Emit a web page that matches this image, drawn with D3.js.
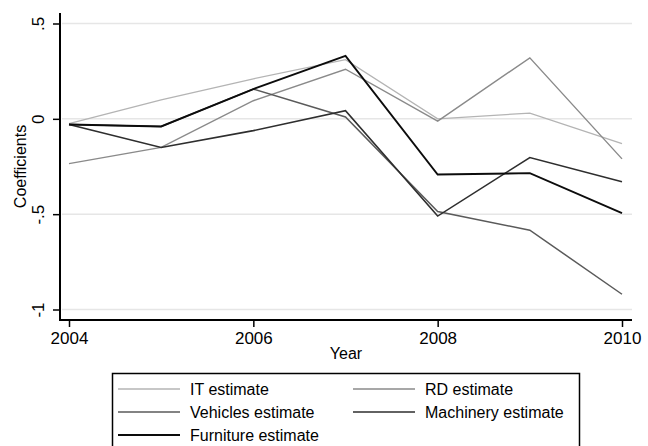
<!DOCTYPE html>
<html>
<head>
<meta charset="utf-8">
<script src="https://cdn.jsdelivr.net/npm/d3@7"></script>
<style>
  body { margin: 0; background: #fff; }
  text { font-family: "Liberation Sans", Arial, sans-serif; fill: #000; }
</style>
</head>
<body>
<div id="wrapper"></div>
<script>
// data
const years = [2004, 2005, 2006, 2007, 2008, 2009, 2010]
const itEstimate = [-0.025, 0.10, 0.21, 0.31, 0.0, 0.03, -0.13]
const rdEstimate = [-0.235, -0.15, 0.095, 0.26, -0.012, 0.32, -0.21]
const vehiclesEstimate = [-0.03, -0.04, 0.156, 0.01, -0.486, -0.584, -0.92]
const machineryEstimate = [-0.03, -0.15, -0.062, 0.043, -0.51, -0.203, -0.33]
const furnitureEstimate = [-0.03, -0.04, 0.156, 0.33, -0.292, -0.285, -0.495]
const yTicks = [-1, -0.5, 0, 0.5]
const yTickLabels = ["-1", "-.5", "0", ".5"]
const xTicks = [2004, 2006, 2008, 2010]

const series = [
  { name: "IT estimate", values: itEstimate, color: "#b4b4b4", width: 1.3 },
  { name: "RD estimate", values: rdEstimate, color: "#8a8a8a", width: 1.4 },
  { name: "Vehicles estimate", values: vehiclesEstimate, color: "#5a5a5a", width: 1.5 },
  { name: "Machinery estimate", values: machineryEstimate, color: "#2e2e2e", width: 1.6 },
  { name: "Furniture estimate", values: furnitureEstimate, color: "#0c0c0c", width: 1.9 },
]

const drawChart = () => {
  const dimensions = {
    width: 648,
    height: 446,
    plotLeft: 60,
    plotRight: 632,
    plotTop: 13,
    plotBottom: 320,
  }

  const svg = d3
    .select("#wrapper")
    .append("svg")
    .attr("width", dimensions.width)
    .attr("height", dimensions.height)

  // scales
  const xScale = d3.scaleLinear().domain([2004, 2010]).range([69, 622])
  const yScale = d3.scaleLinear().domain([-1, 0.5]).range([309.5, 23.5])

  // grid lines
  svg
    .append("g")
    .selectAll("line")
    .data(yTicks)
    .join("line")
    .attr("x1", dimensions.plotLeft + 2)
    .attr("x2", dimensions.plotRight)
    .attr("y1", (d) => yScale(d))
    .attr("y2", (d) => yScale(d))
    .attr("stroke", "#e6e6e6")
    .attr("stroke-width", 1.5)

  // lines
  const lineGenerator = d3
    .line()
    .x((d, i) => xScale(years[i]))
    .y((d) => yScale(d))

  svg
    .append("g")
    .selectAll("path")
    .data(series)
    .join("path")
    .attr("d", (d) => lineGenerator(d.values))
    .attr("fill", "none")
    .attr("stroke", (d) => d.color)
    .attr("stroke-width", (d) => d.width)
    .attr("stroke-linejoin", "miter")

  // y axis
  const yAxisGenerator = d3
    .axisLeft(yScale)
    .tickValues(yTicks)
    .tickSize(7)
    .tickPadding(8)
    .tickFormat((d, i) => yTickLabels[i])

  const yAxis = svg
    .append("g")
    .attr("transform", `translate(${dimensions.plotLeft},0)`)
    .call(yAxisGenerator)

  yAxis.select(".domain").remove()
  yAxis.selectAll("line").attr("stroke", "#000").attr("stroke-width", 1.5)
  yAxis
    .selectAll("text")
    .attr("x", null)
    .attr("dy", null)
    .attr("transform", "translate(-16,0) rotate(-90)")
    .attr("text-anchor", "middle")
    .style("font-size", "17px")
    .style("font-family", "Liberation Sans, Arial, sans-serif")

  svg
    .append("line")
    .attr("x1", dimensions.plotLeft)
    .attr("x2", dimensions.plotLeft)
    .attr("y1", dimensions.plotTop)
    .attr("y2", dimensions.plotBottom)
    .attr("stroke", "#000")
    .attr("stroke-width", 2)

  // x axis
  const xAxisGenerator = d3
    .axisBottom(xScale)
    .tickValues(xTicks)
    .tickSize(7)
    .tickPadding(5)
    .tickFormat(d3.format("d"))

  const xAxis = svg
    .append("g")
    .attr("transform", `translate(0,${dimensions.plotBottom})`)
    .call(xAxisGenerator)

  xAxis.select(".domain").remove()
  xAxis.selectAll("line").attr("stroke", "#000").attr("stroke-width", 1.5)
  xAxis
    .selectAll("text")
    .style("font-size", "17px")
    .style("font-family", "Liberation Sans, Arial, sans-serif")

  svg
    .append("line")
    .attr("x1", dimensions.plotLeft - 1)
    .attr("x2", dimensions.plotRight)
    .attr("y1", dimensions.plotBottom)
    .attr("y2", dimensions.plotBottom)
    .attr("stroke", "#000")
    .attr("stroke-width", 2)

  // axis titles
  svg
    .append("text")
    .attr("x", (dimensions.plotLeft + dimensions.plotRight) / 2)
    .attr("y", 359)
    .attr("text-anchor", "middle")
    .style("font-size", "16px")
    .text("Year")

  svg
    .append("text")
    .attr("transform", `translate(26,${(dimensions.plotTop + dimensions.plotBottom) / 2}) rotate(-90)`)
    .attr("text-anchor", "middle")
    .style("font-size", "16px")
    .text("Coefficients")

  // legend
  const legend = svg.append("g")
  legend
    .append("rect")
    .attr("x", 112.5)
    .attr("y", 373.5)
    .attr("width", 467)
    .attr("height", 90)
    .attr("fill", "#fff")
    .attr("stroke", "#000")
    .attr("stroke-width", 1.5)

  const items = legend
    .selectAll(".item")
    .data(series)
    .join("g")
    .attr("class", "item")
    .attr("transform", (d, i) => `translate(${i % 2 === 0 ? 118 : 353},${389 + Math.floor(i / 2) * 23})`)

  items
    .append("line")
    .attr("x1", 0)
    .attr("x2", 62)
    .attr("stroke", (d) => d.color)
    .attr("stroke-width", (d) => d.width)

  items
    .append("text")
    .attr("x", 72)
    .attr("y", 6)
    .style("font-size", "16px")
    .text((d) => d.name)
}

drawChart()
</script>
</body>
</html>
